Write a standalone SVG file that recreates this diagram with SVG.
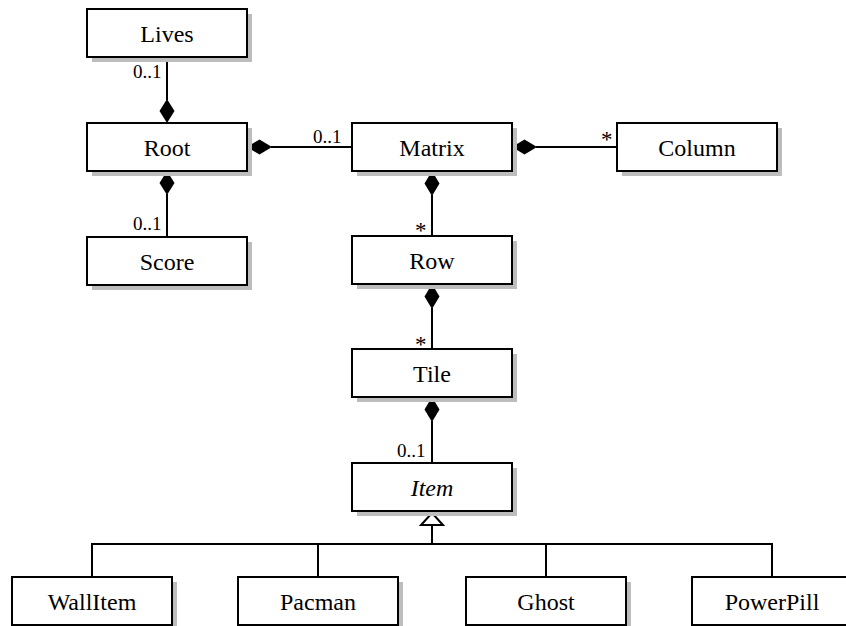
<svg xmlns="http://www.w3.org/2000/svg" width="846" height="626" viewBox="0 0 846 626">
<defs>
<style>
.shadow{fill:#bdbdbd;stroke:none}
.box{fill:#fff;stroke:#000;stroke-width:2}
.name{font-family:"Liberation Serif","DejaVu Serif",serif;font-size:24px;fill:#000;text-anchor:middle}
.mult{font-family:"Liberation Serif","DejaVu Serif",serif;font-size:19px;fill:#000}
.star{font-family:"Liberation Serif","DejaVu Serif",serif;font-size:23px;fill:#000}
.line{fill:none;stroke:#000;stroke-width:2}
.dia{fill:#000;stroke:none}
.tri{fill:#fff;stroke:#000;stroke-width:2;stroke-linejoin:miter}
</style>
</defs>
<rect width="846" height="626" fill="#fff"/>
<g id="connectors">
<line class="line" x1="167" y1="57" x2="167" y2="100"/>
<path class="dia" d="M167,99 L174.5,111 L167,123 L159.5,111 Z"/>
<text class="mult" x="133" y="78">0..1</text>
<path class="dia" d="M167,171 L174.5,183 L167,195 L159.5,183 Z"/>
<line class="line" x1="167" y1="194" x2="167" y2="237"/>
<text class="mult" x="133" y="230">0..1</text>
<path class="dia" d="M247,147 L259.5,139.5 L272,147 L259.5,154.5 Z"/>
<line class="line" x1="271" y1="147" x2="352" y2="147"/>
<text class="mult" x="313" y="143">0..1</text>
<path class="dia" d="M512,147 L524.5,139.5 L537,147 L524.5,154.5 Z"/>
<line class="line" x1="536" y1="147" x2="617" y2="147"/>
<text class="star" x="601" y="147">*</text>
<path class="dia" d="M432,171 L439.5,183.5 L432,196 L424.5,183.5 Z"/>
<line class="line" x1="432" y1="195" x2="432" y2="236"/>
<text class="star" x="415" y="238">*</text>
<path class="dia" d="M432,284 L439.5,296.5 L432,309 L424.5,296.5 Z"/>
<line class="line" x1="432" y1="308" x2="432" y2="349"/>
<text class="star" x="415" y="352">*</text>
<path class="dia" d="M432,397 L439.5,409.5 L432,422 L424.5,409.5 Z"/>
<line class="line" x1="432" y1="421" x2="432" y2="463"/>
<text class="mult" x="397" y="457">0..1</text>
<line class="line" x1="432" y1="525" x2="432" y2="544"/>
<path class="line" d="M92,577 L92,544 L772,544 L772,577"/>
<line class="line" x1="318" y1="544" x2="318" y2="577"/>
<line class="line" x1="546" y1="544" x2="546" y2="577"/>
<path class="tri" d="M432,513 L443,525 L421,525 Z"/>
</g>
<g id="Lives"><rect class="shadow" x="92" y="14" width="160" height="48"/><rect class="box" x="87" y="9" width="160" height="48"/><text class="name" x="167" y="42">Lives</text></g>
<g id="Root"><rect class="shadow" x="92" y="128" width="160" height="48"/><rect class="box" x="87" y="123" width="160" height="48"/><text class="name" x="167" y="156">Root</text></g>
<g id="Score"><rect class="shadow" x="92" y="242" width="160" height="48"/><rect class="box" x="87" y="237" width="160" height="48"/><text class="name" x="167" y="270">Score</text></g>
<g id="Matrix"><rect class="shadow" x="357" y="128" width="160" height="48"/><rect class="box" x="352" y="123" width="160" height="48"/><text class="name" x="432" y="156">Matrix</text></g>
<g id="Column"><rect class="shadow" x="622" y="128" width="160" height="48"/><rect class="box" x="617" y="123" width="160" height="48"/><text class="name" x="697" y="156">Column</text></g>
<g id="Row"><rect class="shadow" x="357" y="241" width="160" height="48"/><rect class="box" x="352" y="236" width="160" height="48"/><text class="name" x="432" y="269">Row</text></g>
<g id="Tile"><rect class="shadow" x="357" y="354" width="160" height="48"/><rect class="box" x="352" y="349" width="160" height="48"/><text class="name" x="432" y="382">Tile</text></g>
<g id="Item"><rect class="shadow" x="357" y="468" width="160" height="48"/><rect class="box" x="352" y="463" width="160" height="48"/><text class="name" x="432" y="496" font-style="italic">Item</text></g>
<g id="WallItem"><rect class="shadow" x="17" y="582" width="160" height="48"/><rect class="box" x="12" y="577" width="160" height="48"/><text class="name" x="92" y="610">WallItem</text></g>
<g id="Pacman"><rect class="shadow" x="243" y="582" width="160" height="48"/><rect class="box" x="238" y="577" width="160" height="48"/><text class="name" x="318" y="610">Pacman</text></g>
<g id="Ghost"><rect class="shadow" x="471" y="582" width="160" height="48"/><rect class="box" x="466" y="577" width="160" height="48"/><text class="name" x="546" y="610">Ghost</text></g>
<g id="PowerPill"><rect class="shadow" x="697" y="582" width="160" height="48"/><rect class="box" x="692" y="577" width="160" height="48"/><text class="name" x="772" y="610">PowerPill</text></g>
</svg>
